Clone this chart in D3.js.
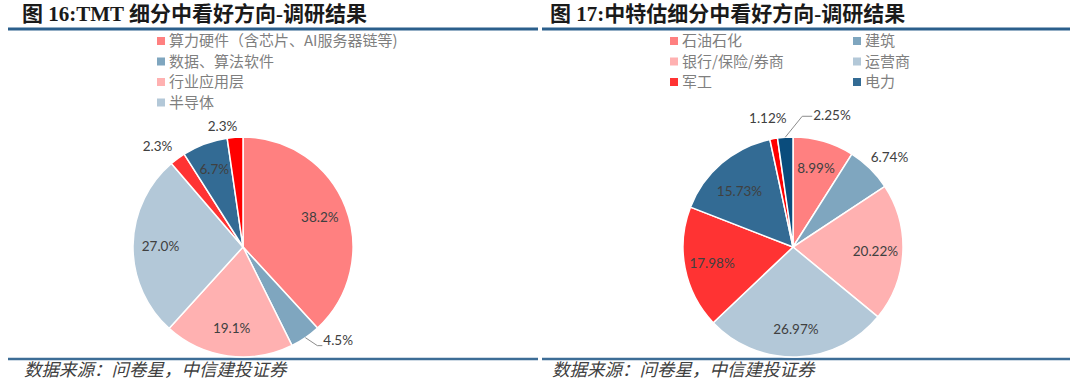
<!DOCTYPE html>
<html>
<head>
<meta charset="utf-8">
<script src="https://cdn.jsdelivr.net/npm/d3@7"></script>
<style>
  body { margin: 0; background: #ffffff; }
  .title { font-family: "Liberation Serif", "Noto Sans CJK SC", serif; font-weight: bold; font-size: 21px; fill: #1a1a1a; }
  .legend-text { font-family: "Noto Sans CJK SC", sans-serif; font-size: 15px; fill: #7f7f7f; }
  .pie-label { font-family: Lato, "Open Sans", sans-serif; font-size: 13.5px; fill: #404040; }
  .source { font-family: "Noto Sans CJK SC", sans-serif; font-style: italic; font-size: 17.5px; fill: #404040; }
</style>
</head>
<body>
<div id="chart"></div>
<script>
// chart 16: TMT
var tmtTitle = "图 16:TMT 细分中看好方向-调研结果";
var tmtLegend = ["算力硬件（含芯片、AI服务器链等)", "数据、算法软件", "行业应用层", "半导体"];
var tmtValues = [38.2, 4.5, 19.1, 27.0, 2.3, 6.7, 2.3];
var tmtLabels = ["38.2%", "4.5%", "19.1%", "27.0%", "2.3%", "6.7%", "2.3%"];

// chart 17: 中特估
var ztgTitle = "图 17:中特估细分中看好方向-调研结果";
var ztgLegend = ["石油石化", "建筑", "银行/保险/券商", "运营商", "军工", "电力"];
var ztgValues = [8.99, 6.74, 20.22, 26.97, 17.98, 15.73, 1.12, 2.25];
var ztgLabels = ["8.99%", "6.74%", "20.22%", "26.97%", "17.98%", "15.73%", "1.12%", "2.25%"];

var sourceText = "数据来源：问卷星，中信建投证券";

var colors = ["#ff8080", "#7fa6bf", "#ffb1b1", "#b3c8d8", "#ff3333", "#336b94", "#ff0000", "#0a4c7c"];

var width = 1080;
var height = 383;
var radius = 110;

var svg = d3.select("#chart")
            .append("svg")
            .attr("width", width)
            .attr("height", height);

drawPanel({
  x0: 8, x1: 538, titleX: 22,
  title: tmtTitle, legend: tmtLegend, values: tmtValues, labels: tmtLabels,
  cx: 243, cy: 247,
  legendX: 157, legendCols: 1, legendColGap: 0,
  outside: {4: [-7, 5], 6: [-11, 11]},
  inside: {},
  leader: {index: 1, elbow: [12, 8], run: 5, textDy: -5}
});

drawPanel({
  x0: 542, x1: 1070, titleX: 550,
  title: ztgTitle, legend: ztgLegend, values: ztgValues, labels: ztgLabels,
  cx: 793, cy: 247,
  legendX: 670, legendCols: 2, legendColGap: 183,
  outside: {1: [4, 4], 6: [-2, 1]},
  inside: {5: [0, 7]},
  leader: {index: 7, elbow: [17, -21], run: 10, textDy: -1}
});

function drawPanel(opt){
  var g = svg.append("g");

  g.append("text")
   .attr("class", "title")
   .attr("x", opt.titleX)
   .attr("y", 21)
   .text(opt.title);

  g.append("line")
   .attr("x1", opt.x0).attr("x2", opt.x1)
   .attr("y1", 29).attr("y2", 29)
   .attr("stroke", "#2b5f8c")
   .attr("stroke-width", 3);

  g.append("line")
   .attr("x1", opt.x0).attr("x2", opt.x1)
   .attr("y1", 359).attr("y2", 359)
   .attr("stroke", "#3d6d96")
   .attr("stroke-width", 2.5);

  g.append("text")
   .attr("class", "source")
   .attr("x", opt.titleX + 2)
   .attr("y", 376)
   .text(sourceText);

  // legend
  var rowH = 20.5;
  var items = g.selectAll(".legend-item")
               .data(opt.legend)
               .enter()
               .append("g")
               .attr("class", "legend-item")
               .attr("transform", function(d, i){
                 var col = i % opt.legendCols;
                 var row = Math.floor(i / opt.legendCols);
                 return "translate(" + (opt.legendX + col * opt.legendColGap) + "," + (41 + row * rowH) + ")";
               });
  items.append("rect")
       .attr("x", 0)
       .attr("y", -4)
       .attr("width", 8)
       .attr("height", 8)
       .attr("fill", function(d, i){ return colors[i]; });
  items.append("text")
       .attr("class", "legend-text")
       .attr("x", 12)
       .attr("y", 0)
       .attr("dy", "0.36em")
       .text(function(d){ return d; });

  // pie
  var pie = d3.pie()
              .sort(null)
              .value(function(d){ return d; });
  var arcs = pie(opt.values);
  var arc = d3.arc()
              .innerRadius(0)
              .outerRadius(radius);

  var pg = g.append("g")
            .attr("transform", "translate(" + opt.cx + "," + opt.cy + ")");

  pg.selectAll("path")
    .data(arcs)
    .enter()
    .append("path")
    .attr("d", arc)
    .attr("fill", function(d, i){ return colors[i]; })
    .attr("stroke", "#ffffff")
    .attr("stroke-width", 1.5);

  function pointAt(d, r){
    var a = (d.startAngle + d.endAngle) / 2;
    return [r * Math.sin(a), -r * Math.cos(a)];
  }

  arcs.forEach(function(d, i){
    var label = opt.labels[i];
    if (i == opt.leader.index){
      var p0 = pointAt(d, radius);
      var p1 = [p0[0] + opt.leader.elbow[0], p0[1] + opt.leader.elbow[1]];
      var p2 = [p1[0] + opt.leader.run, p1[1]];
      pg.append("polyline")
        .attr("points", [p0, p1, p2].map(function(p){ return p.join(","); }).join(" "))
        .attr("fill", "none")
        .attr("stroke", "#8c8c8c")
        .attr("stroke-width", 1);
      pg.append("text")
        .attr("class", "pie-label")
        .attr("x", p2[0] + 1)
        .attr("y", p2[1] + opt.leader.textDy)
        .attr("dy", "0.35em")
        .attr("text-anchor", "start")
        .text(label);
      return;
    }
    var p;
    if (opt.outside[i]){
      p = pointAt(d, radius * 1.2);
      p[0] += opt.outside[i][0];
      p[1] += opt.outside[i][1];
    } else {
      p = pointAt(d, radius * 0.75);
      if (opt.inside[i]){
        p[0] += opt.inside[i][0];
        p[1] += opt.inside[i][1];
      }
    }
    pg.append("text")
      .attr("class", "pie-label")
      .attr("x", p[0])
      .attr("y", p[1])
      .attr("dy", "0.35em")
      .attr("text-anchor", "middle")
      .text(label);
  });
}
</script>
</body>
</html>
